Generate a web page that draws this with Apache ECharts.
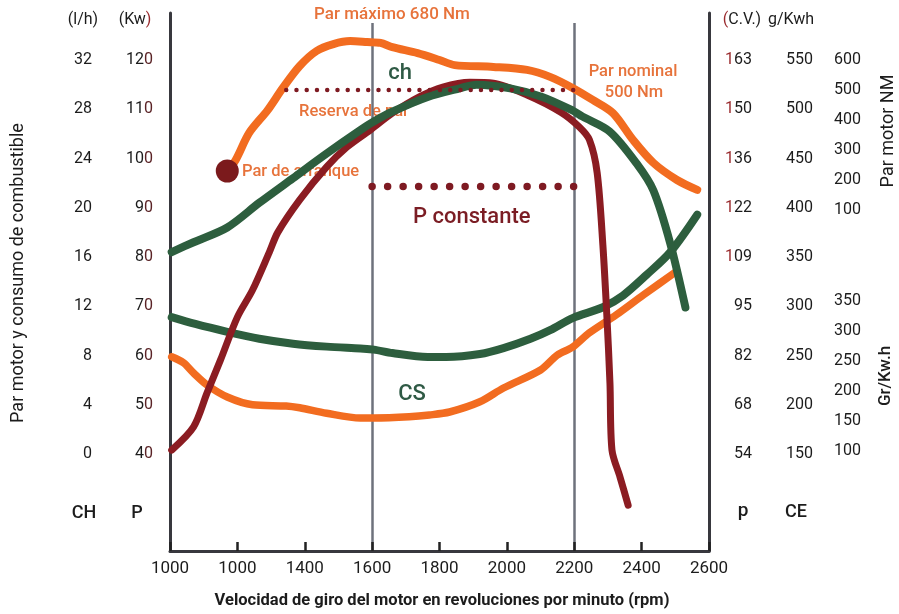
<!DOCTYPE html>
<html>
<head>
<meta charset="utf-8">
<script src="https://cdn.jsdelivr.net/npm/echarts@6/dist/echarts.min.js"></script>
<style>html,body{margin:0;padding:0;background:#fff}#c{width:899px;height:614px}</style>
</head>
<body>
<div id="c"></div>
<script>
// ---------- tick labels ----------
const rpmTickLabels = ['1000','1000','1400','1600','1800','2000','2200','2400','2600'];
const cvLabels = ['54','68','82','95','109','122','136','150','163'];

// ---------- series values: [rpm, value] ----------
// Par motor (Nm)
const parMotor = [[1170,230],[1195,267],[1235,357],[1290,433],[1335,507],[1385,580],[1435,630],[1485,653],[1535,663],[1585,660],[1625,657],[1660,643],[1735,623],[1800,600],[1845,583],[1960,577],[2060,567],[2130,543],[2195,507],[2255,467],[2315,423],[2375,333],[2435,257],[2505,200],[2565,167]];
const parArranque = [[1170,230]];
const reservaPar = [[1345,500],[2200,500]];
// Potencia P (kW)
const potencia = [[1005,40.8],[1070,45.5],[1110,52.4],[1150,59.1],[1200,67.8],[1245,73.3],[1295,81],[1320,85],[1385,91.6],[1465,98.3],[1525,102.3],[1595,105.8],[1660,109.2],[1740,112.5],[1810,114.5],[1890,115.5],[1960,115.3],[2060,112.9],[2160,109.4],[2215,106.4],[2245,103.8],[2268,97.1],[2285,82.4],[2297,67.8],[2306,54.4],[2312,40.8],[2336,35.3],[2360,29.6]];
const pConstante = [[1600,94.3],[2200,94.3]];
// Consumo horario ch (l/h)
const consumoHorario = [[1005,16.4],[1070,17.2],[1170,18.4],[1265,20.4],[1365,22.4],[1465,24.4],[1565,26.3],[1605,27.0],[1660,27.8],[1765,29.0],[1860,29.7],[1910,30.0],[2010,29.7],[2105,29.0],[2195,27.9],[2225,27.4],[2305,26.2],[2385,23.6],[2435,21.4],[2485,17.1],[2530,11.9]];
// Consumo especifico CS (g/kWh)
const consumoEspecifico = [[1005,289],[1075,282],[1170,274],[1265,267],[1365,262],[1465,259],[1565,257],[1605,256],[1660,252.5],[1765,248.5],[1820,248.5],[1920,251.5],[1990,257.5],[2070,267],[2130,276],[2195,288],[2285,299],[2345,311],[2415,332],[2485,355],[2565,393]];
// Consumo (Gr/Kw.h)
const consumoGr = [[1005,257],[1040,247],[1070,230],[1110,210],[1170,190],[1245,177],[1345,175],[1385,172],[1465,163],[1565,155],[1605,155],[1710,157],[1770,160],[1830,165],[1920,182],[1990,205],[2100,235],[2150,260],[2195,273],[2245,297],[2325,327],[2405,360],[2505,400]];

// ---------- styles ----------
const FONT = 'Roboto, "Noto Sans", sans-serif';
const ORANGE = '#f26c20';
const ORANGE_TXT = '#e7733b';
const GREEN = '#2d5e3e';
const GREEN_TXT = '#2f5a45';
const RED = '#8b1c22';
const DOT = '#7e1a22';
const FRAME = '#38383e';
const REF = '#6e727c';
const INK = '#1c1c1c';
const INK_RED = '#9a2b2e';

const G = {left:170, right:190, outerBoundsMode:'none', containLabel:false};
const hiddenX = (gi) => ({type:'value', gridIndex:gi, min:1000, max:2600, show:false});
const labelAxis = (extra) => Object.assign({
  type:'value', axisLine:{show:false}, axisTick:{show:false}, splitLine:{show:false}
}, extra);

const chart = echarts.init(document.getElementById('c'), null, {renderer:'canvas'});

const txt = (x, y, text, size, color, extra) => Object.assign({
  type:'text', x, y, z:0,
  style:Object.assign({text, fill:color, font:`${(extra&&extra.weight)||'normal'} ${size}px ${FONT}`,
    textAlign:'center', textVerticalAlign:'middle', align:'center', verticalAlign:'middle'}, (extra&&extra.style)||{})
}, (extra&&extra.el)||{});

chart.setOption({
  animation:false,
  backgroundColor:'#ffffff',
  grid:[
    Object.assign({top:23, bottom:63}, G),          // 0 reference lines
    Object.assign({top:13, bottom:63}, G),          // 1 frame
    Object.assign({top:60, height:394}, G),         // 2 l/h, Kw, C.V., g/Kwh
    Object.assign({top:60, height:150}, G),         // 3 Par motor NM
    Object.assign({top:301, height:150}, G)         // 4 Gr/Kw.h
  ],
  xAxis:[
    {type:'value', gridIndex:0, min:1000, max:2600, interval:600,
     axisLine:{show:false}, axisTick:{show:false}, axisLabel:{show:false},
     splitLine:{show:true, lineStyle:{color:REF, width:2.5}}},
    {type:'value', gridIndex:1, min:1000, max:2600, interval:200,
     axisLine:{show:true, onZero:false, lineStyle:{color:FRAME, width:3}},
     axisTick:{show:true, inside:true, length:9, lineStyle:{color:'#222', width:2.5}},
     axisLabel:{margin:9, fontSize:17, color:INK, fontFamily:FONT,
       formatter:(v)=>rpmTickLabels[Math.round((v-1000)/200)]},
     splitLine:{show:false}},
    hiddenX(2), hiddenX(3), hiddenX(4)
  ],
  yAxis:[
    {type:'value', gridIndex:1, position:'left', min:0, max:1,
     axisLine:{show:true, onZero:false, lineStyle:{color:FRAME, width:3}}, axisTick:{show:false}, axisLabel:{show:false}, splitLine:{show:false}},
    {type:'value', gridIndex:1, position:'right', min:0, max:1,
     axisLine:{show:true, onZero:false, lineStyle:{color:FRAME, width:3}}, axisTick:{show:false}, axisLabel:{show:false}, splitLine:{show:false}},
    labelAxis({gridIndex:2, position:'left', offset:70, min:0, max:32, interval:4,
      axisLabel:{margin:8, fontSize:16, color:INK, fontFamily:FONT}}),
    labelAxis({gridIndex:2, position:'left', min:40, max:120, interval:10,
      axisLabel:{margin:17, fontSize:16, color:INK, fontFamily:FONT,
        formatter:(v)=>{const s=String(v); return '{k|'+s.slice(0,-1)+'}{r|'+s.slice(-1)+'}';},
        rich:{k:{fontSize:16, color:INK, fontFamily:FONT}, r:{fontSize:16, color:'#5a2326', fontFamily:FONT}}}}),
    labelAxis({gridIndex:2, position:'right', min:40, max:120, interval:10,
      axisLabel:{margin:43, align:'right', fontSize:16, color:INK, fontFamily:FONT,
        formatter:(v)=>{const s=cvLabels[Math.round((v-40)/10)]||''; return s[0]==='1' ? '{r|1}{k|'+s.slice(1)+'}' : '{k|'+s+'}';},
        rich:{k:{fontSize:16, color:INK, fontFamily:FONT}, r:{fontSize:16, color:INK_RED, fontFamily:FONT}}}}),
    labelAxis({gridIndex:2, position:'right', min:150, max:550, interval:50,
      axisLabel:{margin:104, align:'right', fontSize:16, color:INK, fontFamily:FONT}}),
    labelAxis({gridIndex:3, position:'right', min:100, max:600, interval:100,
      axisLabel:{margin:152, align:'right', fontSize:16, color:INK, fontFamily:FONT}}),
    labelAxis({gridIndex:4, position:'right', min:100, max:350, interval:50,
      axisLabel:{margin:152, align:'right', fontSize:16, color:INK, fontFamily:FONT}}),
    {type:'value', gridIndex:0, min:0, max:1, show:false}
  ],
  series:[
    {name:'Consumo Gr/Kw.h', type:'line', xAxisIndex:4, yAxisIndex:7, data:consumoGr, smooth:0.3, showSymbol:false, symbol:'none', clip:false, z:3,
     lineStyle:{color:ORANGE, width:7.5, cap:'round', join:'round'}},
    {name:'CS', type:'line', xAxisIndex:2, yAxisIndex:5, data:consumoEspecifico, smooth:0.3, showSymbol:false, symbol:'none', clip:false, z:3,
     lineStyle:{color:GREEN, width:8, cap:'round', join:'round'}},
    {name:'P', type:'line', xAxisIndex:2, yAxisIndex:3, data:potencia, smooth:0.3, showSymbol:false, symbol:'none', clip:false, z:4,
     lineStyle:{color:RED, width:7, cap:'round', join:'round'}},
    {name:'ch', type:'line', xAxisIndex:2, yAxisIndex:2, data:consumoHorario, smooth:0.3, showSymbol:false, symbol:'none', clip:false, z:5,
     lineStyle:{color:GREEN, width:8, cap:'round', join:'round'}},
    {name:'Par motor', type:'line', xAxisIndex:3, yAxisIndex:6, data:parMotor, smooth:0.3, showSymbol:false, symbol:'none', clip:false, z:5,
     lineStyle:{color:ORANGE, width:8, cap:'round', join:'round'}},
    {name:'Reserva de par', type:'line', xAxisIndex:3, yAxisIndex:6, data:reservaPar, showSymbol:false, symbol:'none', clip:false, z:7,
     lineStyle:{color:DOT, width:4.5, type:[0,10.25], cap:'round'}},
    {name:'P constante', type:'line', xAxisIndex:2, yAxisIndex:3, data:pConstante, showSymbol:false, symbol:'none', clip:false, z:7,
     lineStyle:{color:DOT, width:7.5, type:[0,15.5], cap:'round'}},
    {name:'Par de arranque', type:'scatter', xAxisIndex:3, yAxisIndex:6, data:parArranque, symbol:'circle', symbolSize:23, clip:false, z:8,
     itemStyle:{color:'#7b1a1c', opacity:1}}
  ],
  graphic:{elements:[
    // column headers
    txt(83, 20, '(l/h)', 16, INK),
    {type:'text', x:135, y:20, style:{text:'{k|(Kw}{r|)}', textAlign:'center', textVerticalAlign:'middle', align:'center', verticalAlign:'middle',
      rich:{k:{fontSize:16, fontFamily:FONT, fill:INK, color:INK}, r:{fontSize:16, fontFamily:FONT, fill:INK_RED, color:INK_RED}}}},
    {type:'text', x:742, y:20, style:{text:'{r|(}{k|C.V.)}', textAlign:'center', textVerticalAlign:'middle', align:'center', verticalAlign:'middle',
      rich:{k:{fontSize:16, fontFamily:FONT, fill:INK, color:INK}, r:{fontSize:16, fontFamily:FONT, fill:INK_RED, color:INK_RED}}}},
    txt(791, 20, 'g/Kwh', 16, INK),
    txt(84, 513, 'CH', 18, INK, {weight:500}),
    txt(137, 513, 'P', 18, INK, {weight:500}),
    txt(743, 511, 'p', 19, INK, {weight:500}),
    txt(796, 512, 'CE', 18, INK, {weight:500}),
    // axis titles
    txt(18, 273, 'Par motor y consumo de combustible', 18, INK, {el:{rotation:Math.PI/2}}),
    txt(888, 131, 'Par motor NM', 18, INK, {el:{rotation:Math.PI/2}}),
    txt(886, 376, 'Gr/Kw.h', 17, INK, {weight:500, el:{rotation:Math.PI/2}}),
    txt(442, 601, 'Velocidad de giro del motor en revoluciones por minuto (rpm)', 16.5, INK, {weight:'bold'}),
    // annotations
    txt(392, 15, 'Par máximo 680 Nm', 17, ORANGE_TXT, {weight:500}),
    txt(400, 73, 'ch', 22, GREEN_TXT, {weight:500}),
    txt(354, 112, 'Reserva de par', 16.5, ORANGE_TXT, {weight:500}),
    txt(242, 172, 'Par de arranque', 16.5, ORANGE_TXT, {weight:500, style:{textAlign:'left', align:'left'}}),
    txt(413, 217, 'P constante', 22, '#7b1d24', {weight:500, style:{textAlign:'left', align:'left'}}),
    txt(633, 72, 'Par nominal', 16.5, ORANGE_TXT, {weight:500}),
    txt(634, 93, '500 Nm', 16.5, ORANGE_TXT, {weight:500}),
    txt(412, 394, 'CS', 22, GREEN_TXT, {weight:500})
  ]}
});
</script>
</body>
</html>
